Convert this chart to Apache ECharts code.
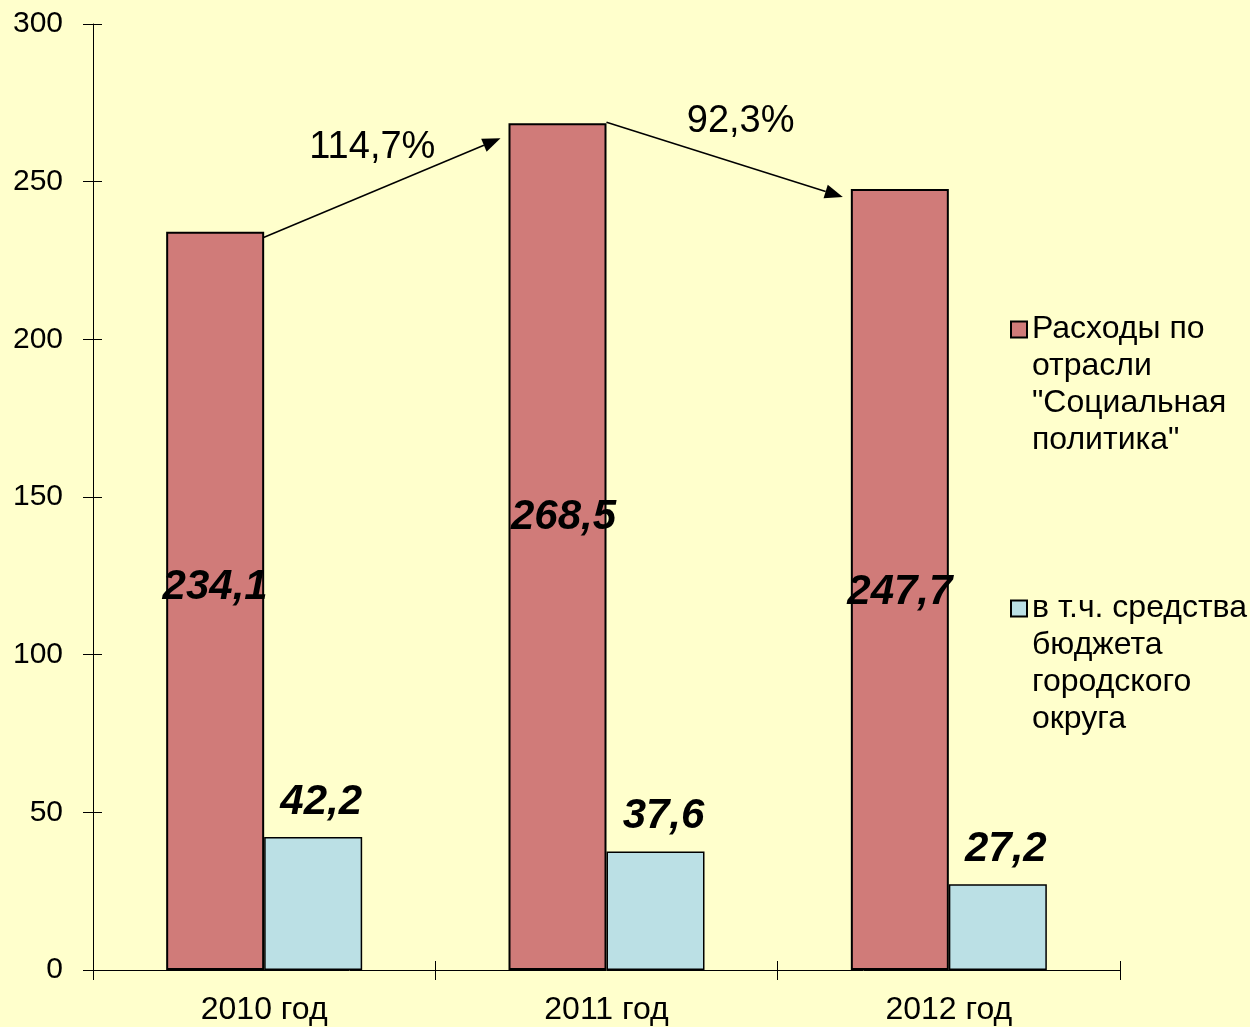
<!DOCTYPE html>
<html>
<head>
    <meta charset="utf-8"/>
    <title>ECharts</title>
    <script src="https://cdn.jsdelivr.net/npm/echarts@6/dist/echarts.min.js"></script>
    <style>
        html, body { margin: 0; padding: 0; background: #FFFFCC; }
    </style>
</head>
<body>
<div id="main" style="width: 1250px; height: 1027px"></div>
<script type="text/javascript">
    // данные
    var categories = ['2010 год', '2011 год', '2012 год'];
    var socialValues = [234.1, 268.5, 247.7];
    var budgetValues = [42.2, 37.6, 27.2];
    var growthLabels = ['114,7%', '92,3%'];
    var seriesNames = ['Расходы по\nотрасли\n"Социальная\nполитика"', 'в т.ч. средства\nбюджета\nгородского\nокруга'];

    // смещения подписей (только оформление)
    var socialLabelOffsets = [[0, -13], [6, -29], [0, 13]];

    var font = '"Liberation Sans", Arial, sans-serif';
    var barW = 98;

    function fmt(v) { return String(v).replace('.', ','); }

    // пустые строки сверху, чтобы значок стоял у первой строки
    function legendText(name) {
        var n = name.split('\n').length;
        return new Array(n).join('\n') + name;
    }

    var myChart = echarts.init(document.getElementById('main'));

    var legendBase = {
        padding: 0, orient: 'vertical', icon: 'rect',
        itemWidth: 16, itemHeight: 16, selectedMode: false,
        formatter: legendText,
        textStyle: { fontFamily: font, fontSize: 32, lineHeight: 37, color: '#000' }
    };

    var option = {
        backgroundColor: '#FFFFCC',
        animation: false,
        grid: { left: 93, right: 130, top: 24, bottom: 57 },
        legend: [
            Object.assign({ data: [seriesNames[0]], left: 1010, top: 200 }, legendBase),
            Object.assign({ data: [seriesNames[1]], left: 1010, top: 479 }, legendBase)
        ],
        xAxis: [{
            type: 'category',
            data: categories,
            axisLine: { lineStyle: { color: '#000', width: 1 } },
            axisTick: { show: true, length: 10, lineStyle: { color: '#000' } },
            axisLabel: { margin: 24, color: '#000', fontFamily: font, fontSize: 32 }
        }, {
            type: 'category',
            data: categories,
            position: 'bottom',
            axisLine: { show: false },
            axisTick: { show: true, inside: true, length: 9, lineStyle: { color: '#000' } },
            axisLabel: { show: false }
        }],
        yAxis: [{
            type: 'value',
            min: 0, max: 300, interval: 50,
            position: 'left',
            axisLine: { show: true, lineStyle: { color: '#000', width: 1 } },
            axisTick: { show: true, length: 10, lineStyle: { color: '#000' } },
            splitLine: { show: false },
            axisLabel: { margin: 30, color: '#000', fontFamily: font, fontSize: 30 }
        }, {
            type: 'value',
            min: 0, max: 300, interval: 50,
            position: 'left',
            axisLine: { show: false },
            axisTick: { show: true, inside: true, length: 9, lineStyle: { color: '#000' } },
            splitLine: { show: false },
            axisLabel: { show: false }
        }],
        series: [{
            name: seriesNames[0],
            type: 'bar',
            barWidth: barW,
            barGap: '0%',
            itemStyle: { color: '#D07B79', borderColor: '#000', borderWidth: 2 },
            data: socialValues.map(function (v, i) {
                return { value: v, label: { offset: socialLabelOffsets[i] } };
            }),
            label: {
                show: true, position: 'inside',
                formatter: function (p) { return fmt(p.value); },
                color: '#000', fontFamily: font, fontSize: 42,
                fontWeight: 'bold', fontStyle: 'italic'
            }
        }, {
            name: seriesNames[1],
            type: 'bar',
            barWidth: barW,
            itemStyle: { color: '#BBE0E5', borderColor: '#000', borderWidth: 1.5 },
            data: budgetValues,
            label: {
                show: true, position: 'top', distance: 14, offset: [8, 0],
                formatter: function (p) { return fmt(p.value); },
                color: '#000', fontFamily: font, fontSize: 42,
                fontWeight: 'bold', fontStyle: 'italic'
            }
        }]
    };

    myChart.setOption(option);

    // стрелки между столбцами
    function px(i, v) { return myChart.convertToPixel({ xAxisIndex: 0, yAxisIndex: 0 }, [i, v]); }

    function arrow(s, t, text, toff) {
        var dx = t[0] - s[0], dy = t[1] - s[1];
        var len = Math.sqrt(dx * dx + dy * dy);
        var ux = dx / len, uy = dy / len;
        var hl = 18, hw = 7;
        var bx = t[0] - ux * hl, by = t[1] - uy * hl;
        return [{
            type: 'line',
            shape: { x1: s[0], y1: s[1], x2: bx, y2: by },
            style: { stroke: '#000', lineWidth: 1.5 }
        }, {
            type: 'polygon',
            shape: { points: [[t[0], t[1]], [bx - uy * hw, by + ux * hw], [bx + uy * hw, by - ux * hw]] },
            style: { fill: '#000' }
        }, {
            type: 'text',
            x: (s[0] + t[0]) / 2 + toff[0],
            y: (s[1] + t[1]) / 2 + toff[1],
            style: {
                text: text, fill: '#000', font: '38px ' + font,
                align: 'center', verticalAlign: 'middle'
            }
        }];
    }

    var p0 = px(0, socialValues[0]), p1 = px(1, socialValues[1]), p2 = px(2, socialValues[2]);
    var g = [];
    g = g.concat(arrow([p0[0] - 6, p0[1] + 8], [p1[0] - barW - 8, p1[1] + 15], growthLabels[0], [-7, -42]));
    g = g.concat(arrow([p1[0], p1[1] - 1], [p2[0] - barW - 8, p2[1] + 8], growthLabels[1], [16, -38]));
    myChart.setOption({ graphic: g });
</script>
</body>
</html>
